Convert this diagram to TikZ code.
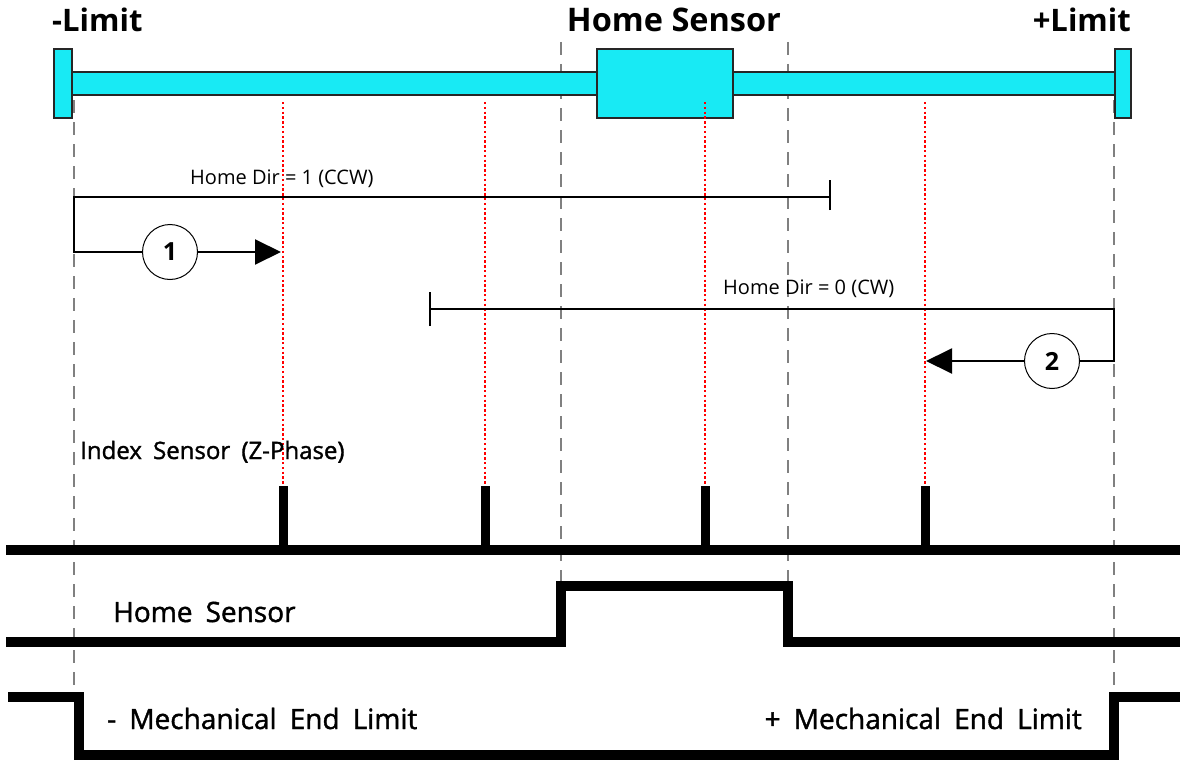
\documentclass[tikz,border=0pt]{standalone}
\usepackage{fontspec}
\setmainfont{Open Sans}
\newfontfamily\sigfont{Open Sans}[WordSpace=1.8, FakeBold=1.4]
\usepackage{xcolor}
\usetikzlibrary{arrows.meta,positioning}
\definecolor{railcyan}{RGB}{24,234,244}

\begin{document}
\begin{tikzpicture}[
      x=1pt, y=-1pt,
      rail/.style={draw=black!85, line width=1.4pt, fill=railcyan},
      guide/.style={draw=black!50, line width=2.6pt, dash pattern=on 13pt off 9pt},
      zmark/.style={draw=red, line width=2.6pt, dash pattern=on 2.4pt off 2.4pt},
      sig/.style={line width=10pt, line join=miter},
      pulse/.style={line width=9pt},
      route/.style={line width=2pt},
      flow/.style={route, -{Triangle[length=26pt, width=25pt]}},
      num/.style={circle, draw, line width=1pt, fill=white, minimum size=55pt,
                  inner sep=0pt, font=\fontsize{25}{27}\selectfont\bfseries},
      head/.style={font=\fontsize{31}{33}\selectfont\bfseries, inner sep=0pt},
      sigl/.style={font=\sigfont\fontsize{28}{30}\selectfont, inner sep=0pt},
      lbl/.style={font=\fontsize{20}{22}\selectfont, inner sep=0pt},
    ]
    \useasboundingbox (0,0) rectangle (1180,760);

    % --- guide lines (limits and home sensor edges) ------------------------
    \draw[guide] (74,100)   -- (74,694);
    \draw[guide] (561,42)   -- (561,584);
    \draw[guide] (788,42)   -- (788,584);
    \draw[guide] (1114,100) -- (1114,694);

    % --- rail with end stops and home sensor -------------------------------
    \draw[rail] (72,72) rectangle (1115,95);
    \draw[rail] (54,49) rectangle (72,118);
    \draw[rail] (1115,49) rectangle (1131,118);
    \draw[rail] (597,49) rectangle (733,118);

    \node[head, anchor=base west] (limneg) at (52,32)   {-Limit};
    \node[head, anchor=base, font=\fontsize{32.5}{34}\selectfont\bfseries]
         (homes)  at (674,32)  {Home Sensor};
    \node[head, anchor=base east] (limpos) at (1131,32) {+Limit};

    % --- index marks (Z-phase) ---------------------------------------------
    \foreach \zx in {283,485,705,925} {
      \draw[zmark] (\zx,102) -- (\zx,486);
      \draw[pulse] (\zx,486) -- (\zx,550);
    }

    % --- homing run 1 (CCW) ------------------------------------------------
    \node[lbl, anchor=base west] (dir1) at (190,184) {Home Dir = 1 (CCW)};
    \node[num] (n1) at (170,252) {1};
    \coordinate (s1) at (74,197);
    \coordinate (e1) at (830,197);
    \coordinate (t1) at (281,252);
    \draw[route] (e1) -- (s1) |- (n1);
    \draw[route] ([yshift=-13pt]e1) -- ([yshift=17pt]e1);
    \draw[flow] (n1) -- (t1);

    % --- homing run 2 (CW) -------------------------------------------------
    \node[lbl, anchor=base west] (dir2) at (723,294) {Home Dir = 0 (CW)};
    \node[num] (n2) at (1052,361) {2};
    \coordinate (s2) at (1114,309);
    \coordinate (e2) at (430,309);
    \coordinate (t2) at (926,361);
    \draw[route] (e2) -- (s2) |- (n2);
    \draw[route] ([yshift=-17pt]e2) -- ([yshift=17pt]e2);
    \draw[flow] (n2) -- (t2);

    % --- signal traces -----------------------------------------------------
    \node[sigl, anchor=base west, font=\sigfont\fontsize{24}{26}\selectfont]
         (zlbl) at (80,459) {Index Sensor (Z-Phase)};
    \draw[sig] (6,550) -- (1180,550);

    \node[sigl, anchor=base west] (hlbl) at (113,622) {Home Sensor};
    \draw[sig] (6,642) -- (561,642) -- (561,586) -- (788,586) -- (788,642)
               -- (1180,642);

    \node[sigl, anchor=base west] (mneg) at (107,729) {- Mechanical End Limit};
    \node[sigl, anchor=base east] (mpos) at (1082,729) {+ Mechanical End Limit};
    \draw[sig] (8,697) -- (79,697) -- (79,755) -- (1114,755) -- (1114,697)
               -- (1180,697);
  \end{tikzpicture}
\end{document}
